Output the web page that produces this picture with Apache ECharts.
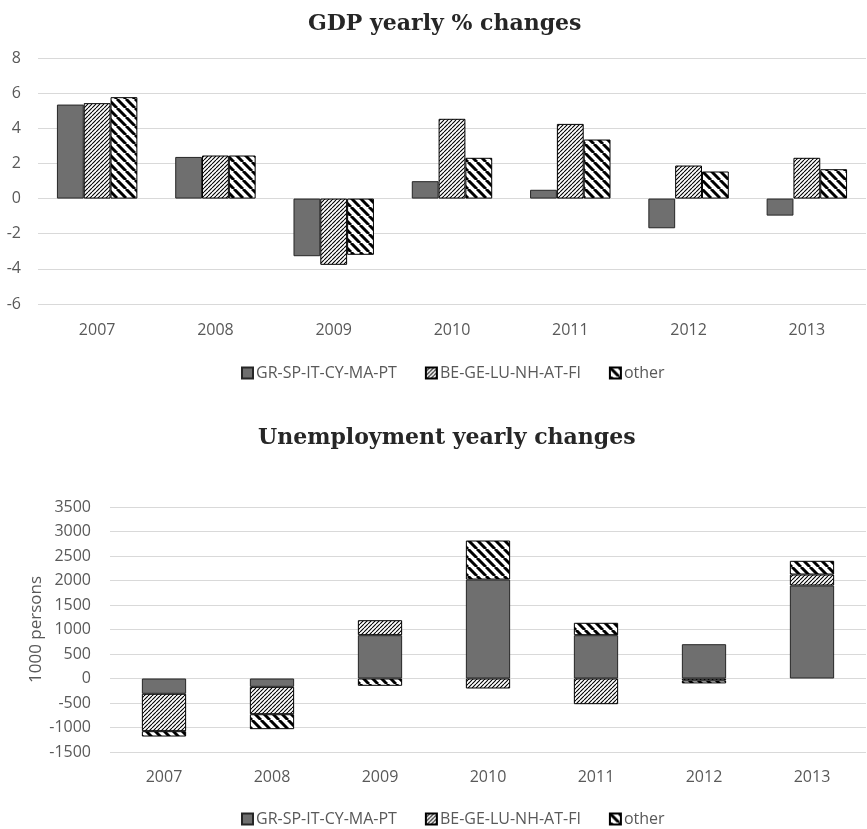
<!DOCTYPE html>
<html>
<head>
<meta charset="utf-8">
<script src="https://cdn.jsdelivr.net/npm/echarts@6/dist/echarts.min.js"></script>
<style>
  html, body { margin: 0; padding: 0; background: #ffffff; }
  #chart { width: 867px; height: 829px; }
</style>
</head>
<body>
<div id="chart"></div>
<script>
// Country groups and years
const years = ['2007', '2008', '2009', '2010', '2011', '2012', '2013'];
const groupNames = ['GR-SP-IT-CY-MA-PT', 'BE-GE-LU-NH-AT-FI', 'other'];

// GDP yearly % changes
const gdpSouth = [5.35, 2.37, -3.28, 0.99, 0.50, -1.69, -0.97];
const gdpNorth = [5.43, 2.45, -3.77, 4.54, 4.25, 1.88, 2.32];
const gdpOther = [5.77, 2.45, -3.20, 2.32, 3.36, 1.54, 1.67];
const gdpTicks = [-6, -4, -2, 0, 2, 4, 6, 8];

// Unemployment yearly changes (1000 persons)
const unempSouth = [-312, -170, 884, 2020, 884, 700, 1898];
const unempNorth = [-763, -559, 306, -204, -524, -40, 224];
const unempOther = [-109, -305, -149, 796, 253, -60, 280];
const unempTicks = [-1500, -1000, -500, 0, 500, 1000, 1500, 2000, 2500, 3000, 3500];

// Diagonal hatch tiles used as bar fills
function hatchTile(size, width, dir) {
  const c = document.createElement('canvas');
  c.width = c.height = size;
  const g = c.getContext('2d');
  g.fillStyle = '#ffffff';
  g.fillRect(0, 0, size, size);
  g.strokeStyle = '#000000';
  g.lineWidth = width;
  g.beginPath();
  for (const k of [-size, 0, size]) {
    if (dir === '/') { g.moveTo(k, size); g.lineTo(k + size, 0); }
    else { g.moveTo(k, 0); g.lineTo(k + size, size); }
  }
  g.stroke();
  return c;
}

const solidFill = '#6f6f6f';
const fineHatch = { image: hatchTile(4, 1.1, '/'), repeat: 'repeat' };
const wideHatch = { image: hatchTile(9, 3, '\\'), repeat: 'repeat' };
const fills = [solidFill, fineHatch, wideHatch];
const borders = ['#262626', '#000000', '#000000'];

const labelFont = 'Open Sans';
const labelColor = '#595959';
const gridColor = '#d9d9d9';

function valueAxis(gridIndex, ticks, margin, extra) {
  return Object.assign({
    type: 'value',
    gridIndex: gridIndex,
    min: ticks[0],
    max: ticks[ticks.length - 1],
    interval: ticks[1] - ticks[0],
    axisLine: { show: false },
    axisTick: { show: false },
    axisLabel: {
      color: labelColor, fontFamily: labelFont, fontSize: 16, margin: margin,
      formatter: (v) => String(v)
    },
    splitLine: { lineStyle: { color: gridColor, width: 1 } }
  }, extra || {});
}

function categoryAxis(gridIndex, margin) {
  return {
    type: 'category',
    gridIndex: gridIndex,
    data: years,
    axisLine: { show: false },
    axisTick: { show: false },
    axisLabel: { color: labelColor, fontFamily: labelFont, fontSize: 16, margin: margin }
  };
}

const gdpValues = [gdpSouth, gdpNorth, gdpOther];
const unempValues = [unempSouth, unempNorth, unempOther];

const series = [];
groupNames.forEach((name, i) => {
  series.push({
    name: name,
    type: 'bar',
    xAxisIndex: 0,
    yAxisIndex: 0,
    data: gdpValues[i],
    barGap: '0%',
    barCategoryGap: '32%',
    itemStyle: { color: fills[i], borderColor: borders[i], borderWidth: 1 }
  });
});
groupNames.forEach((name, i) => {
  series.push({
    name: name,
    type: 'bar',
    xAxisIndex: 1,
    yAxisIndex: 1,
    stack: 'unemployment',
    data: unempValues[i],
    barWidth: '41%',
    itemStyle: { color: fills[i], borderColor: borders[i], borderWidth: 1 }
  });
});

const legendBase = {
  data: groupNames,
  left: 236,
  itemWidth: 11,
  itemHeight: 11,
  itemGap: 28,
  icon: 'rect',
  textStyle: { color: labelColor, fontFamily: labelFont, fontSize: 16, padding: [0, 0, 0, -2] }
};

const titleStyle = { fontFamily: 'DejaVu Serif', fontWeight: 'bold', fontSize: 22, color: '#262626' };

const chart = echarts.init(document.getElementById('chart'), null, { renderer: 'canvas' });
chart.setOption({
  animation: false,
  backgroundColor: '#ffffff',
  title: [
    { text: 'GDP yearly % changes', left: 308, top: 13, padding: 0, textStyle: titleStyle },
    { text: 'Unemployment yearly changes', left: 258, top: 427, padding: 0, textStyle: titleStyle }
  ],
  legend: [
    Object.assign({ top: 360 }, legendBase),
    Object.assign({ top: 806 }, legendBase)
  ],
  grid: [
    { left: 38, right: 1, top: 58, height: 246 },
    { left: 110, right: 1, top: 507, height: 245 }
  ],
  xAxis: [categoryAxis(0, 18), categoryAxis(1, 17)],
  yAxis: [
    valueAxis(0, gdpTicks, 17),
    valueAxis(1, unempTicks, 19, {
      name: '1000 persons',
      nameLocation: 'middle',
      nameGap: 65,
      nameRotate: 90,
      nameMoveOverlap: false,
      nameTextStyle: { color: labelColor, fontFamily: labelFont, fontSize: 17 }
    })
  ],
  series: series
});
</script>
</body>
</html>
